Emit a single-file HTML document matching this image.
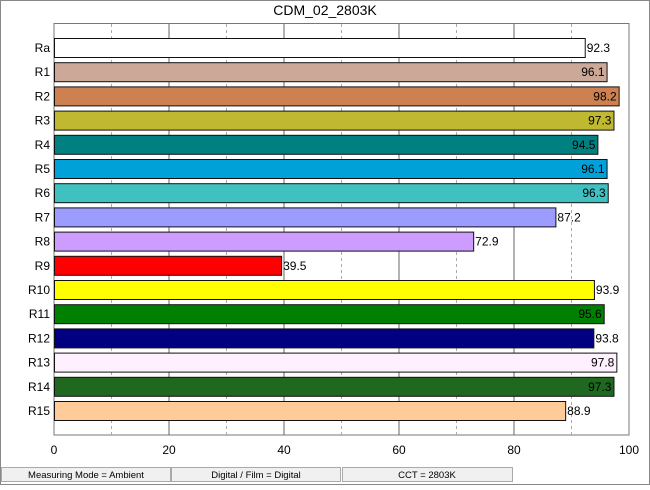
<!DOCTYPE html>
<html><head><meta charset="utf-8"><style>
body{margin:0;width:650px;height:485px;background:#fff;overflow:hidden;font-family:"Liberation Sans",sans-serif}
</style></head><body>
<svg id="chart" width="650" height="485" xmlns="http://www.w3.org/2000/svg" font-family="Liberation Sans, sans-serif">
<rect x="0.5" y="0.5" width="649" height="484" fill="#fff" stroke="#888"/>
<text x="325" y="15" text-anchor="middle" font-size="14">CDM_02_2803K</text>
<rect x="54" y="23.5" width="575" height="411.5" fill="#fff" stroke="#777"/>
<g id="grid"></g><g id="bars"></g><g id="ticks"></g>
<g font-size="9.5" text-anchor="middle">
<rect x="1.5" y="467.5" width="169" height="14" fill="#f0f0f0" stroke="#aaa"/>
<text x="86" y="478">Measuring Mode = Ambient</text>
<rect x="171.5" y="467.5" width="169" height="14" fill="#f0f0f0" stroke="#aaa"/>
<text x="256" y="478">Digital / Film = Digital</text>
<rect x="342.5" y="467.5" width="170" height="14" fill="#f0f0f0" stroke="#aaa"/>
<text x="427" y="478">CCT = 2803K</text>
</g>
</svg>
<script>
const categories=["Ra","R1","R2","R3","R4","R5","R6","R7","R8","R9","R10","R11","R12","R13","R14","R15"];
const values=[92.3,96.1,98.2,97.3,94.5,96.1,96.3,87.2,72.9,39.5,93.9,95.6,93.8,97.8,97.3,88.9];
const colors=["#ffffff","#cca898","#cd8050","#c0b830","#008080","#00a0d8","#40c0c0","#9c9cff","#cc9cff","#ff0000","#ffff00","#008000","#000080","#fff0ff","#206820","#ffcc99"];
const xTicks=[0,20,40,60,80,100];
const NS="http://www.w3.org/2000/svg";
const x=v=>54+v*5.75;
const y=i=>38+i*24.2;
function mk(t,a,p){const e=document.createElementNS(NS,t);for(const k in a)e.setAttribute(k,a[k]);p.appendChild(e);return e;}
const grid=document.getElementById('grid'),bars=document.getElementById('bars'),ticks=document.getElementById('ticks');
for(let v=10;v<100;v+=10){const l=mk('line',{x1:x(v),x2:x(v),y1:24,y2:435,stroke:v%20?'#aaa':'#666','stroke-dasharray':v%20?'3,3':''},grid);

}
xTicks.forEach(t=>{const e=mk('text',{x:x(t),y:454,'text-anchor':'middle','font-size':12},ticks);e.textContent=t;

});
categories.forEach((c,i)=>{
const lb=mk('text',{x:50,y:y(i)+14,'text-anchor':'end','font-size':12},ticks);lb.textContent=c;


const r=mk('rect',{x:54.5,y:y(i)+0.5,width:x(values[i])-54,height:19,fill:colors[i],stroke:'#111'},bars);


const inside=values[i]>94;
const t=mk('text',{x:inside?x(values[i])-2:x(values[i])+2,y:y(i)+14,'text-anchor':inside?'end':'start','font-size':12,fill:'#000'},bars);
t.textContent=values[i].toFixed(1);


});
</script>
</body></html>
